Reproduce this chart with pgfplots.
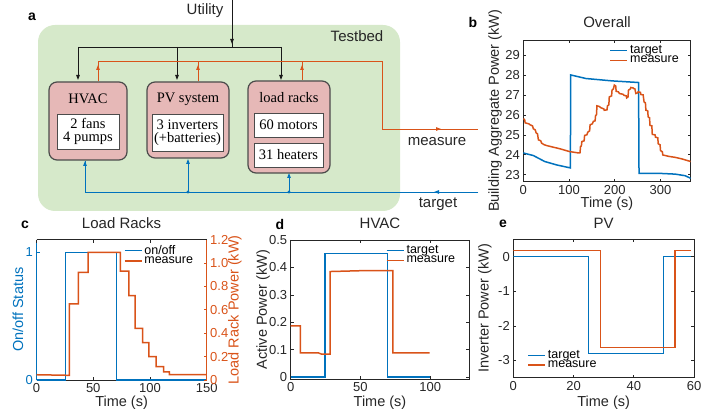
\documentclass[border=0pt]{standalone}
\usepackage{fontspec}
\setmainfont{Liberation Sans}
\newfontfamily\seriffont{Liberation Serif}
\usepackage{pgfplots}
\pgfplotsset{compat=1.18}
\usetikzlibrary{arrows.meta}

\definecolor{mblue}{RGB}{0,114,189}
\definecolor{mred}{RGB}{217,83,25}
\definecolor{axgray}{RGB}{38,38,38}
\definecolor{bedgreen}{RGB}{214,233,202}
\definecolor{boxpink}{RGB}{230,184,183}
\definecolor{boxedge}{RGB}{75,75,75}

\pgfplotsset{
  panel/.style={
    scale only axis, anchor=south west,
    tick align=inside, major tick length=3pt,
    axis line style={axgray, line width=0.6pt},
    every tick/.style={axgray, line width=0.6pt},
    tick label style={font=\fontsize{13}{13}\selectfont, text=axgray},
    label style={font=\fontsize{14.5}{15}\selectfont, text=axgray},
    title style={font=\fontsize{15}{16}\selectfont, anchor=center, text=axgray},
    legend style={draw=none, fill=none, font=\fontsize{12.5}{13}\selectfont, row sep=-3pt},
    legend cell align=left,
    /pgf/number format/assume math mode=true,
  },
  dl/.style={line width=1.5pt},
}

\begin{document}
\begin{tikzpicture}[x=1pt, y=1pt]
\useasboundingbox (0,0) rectangle (722,418);

% ---------------- panel a: testbed diagram ----------------
\begin{scope}[y=-1pt, yshift=418pt]
  \tikzset{
    tip/.style={-{Triangle[length=5pt,width=3.5pt]}},
    blk/.style={draw={rgb,255:red,25;green,25;blue,25}, line width=0.9pt},
    org/.style={draw=mred, line width=0.9pt},
    blu/.style={draw=mblue, line width=0.9pt},
    unit/.style={fill=boxpink, draw=boxedge, line width=1.2pt, rounded corners=8pt},
    inner/.style={fill=white, draw=boxedge, line width=0.9pt},
    ttl/.style={font=\fontsize{14.5}{15}\selectfont\seriffont},
    txt/.style={font=\fontsize{14.5}{13.5}\selectfont\seriffont, align=center},
    sans/.style={font=\fontsize{15}{15}\selectfont, text=axgray},
  }
  \fill[bedgreen, rounded corners=17pt] (38,25) rectangle (400,211);

  \node[font=\fontsize{14}{14}\selectfont\bfseries] at (32,17) {a};
  \node[sans] at (205,11) {Utility};
  \node[sans] at (357,36) {Testbed};
  \node[sans] at (437,142) {measure};
  \node[sans] at (438,204) {target};

  % utility feed (black)
  \draw[blk] (232,0) -- (232,47);
  \draw[blk, tip] (232,30) -- (232,44);
  \draw[blk, tip] (78,47) -- (78,80);
  \draw[blk, tip] (177,47) -- (177,80);
  \draw[blk, tip] (281,47) -- (281,80);
  \draw[blk] (78,47) -- (281,47);

  % measurement (orange)
  \draw[org] (98,81) -- (98,61) -- (382,61) -- (382,129) -- (478,129);
  \draw[org] (198,81) -- (198,61);
  \draw[org] (302,80) -- (302,61);
  \draw[org, tip] (98,81) -- (98,65);
  \draw[org, tip] (198,81) -- (198,65);
  \draw[org, tip] (302,80) -- (302,65);
  \draw[org, tip] (382,129) -- (441,129);

  % target (blue)
  \draw[blu] (478,192) -- (85,192) -- (85,161);
  \draw[blu, tip] (478,192) -- (434,192);
  \draw[blu, tip] (85,192) -- (85,161);
  \draw[blu, tip] (188,192) -- (188,159);
  \draw[blu, tip] (289,192) -- (289,173);
  \fill[mblue] (188,192) circle (1.6);
  \fill[mblue] (289,192) circle (1.6);

  % units
  \draw[unit] (49,82) rectangle (127,160);
  \node[ttl] at (88,99) {HVAC};
  \draw[inner] (57,114) rectangle (119,149);
  \node[txt] at (88,131.5) {2 fans\\4 pumps};

  \draw[unit] (147,82) rectangle (229,158);
  \node[ttl] at (188,99) {PV system};
  \draw[inner] (152,114) rectangle (223,151);
  \node[txt] at (187.5,132.5) {3 inverters\\(+batteries)};

  \draw[unit] (248,81) rectangle (330,173);
  \node[ttl] at (289,98) {load racks};
  \draw[inner] (254,113) rectangle (323,137);
  \node[txt] at (288.5,125) {60 motors};
  \draw[inner] (254,143) rectangle (323,167);
  \node[txt] at (288.5,155) {31 heaters};

  \node[font=\fontsize{14}{14}\selectfont\bfseries] at (473,22) {b};
  \node[font=\fontsize{14}{14}\selectfont\bfseries] at (25,225) {c};
  \node[font=\fontsize{14}{14}\selectfont\bfseries] at (280,224) {d};
  \node[font=\fontsize{14}{14}\selectfont\bfseries] at (503,224) {e};
\end{scope}

% ---------------- panel b: overall ----------------
\begin{axis}[panel, at={(523.3pt,236.3pt)}, width=167.4pt, height=141.7pt,
  xmin=0, xmax=366, ymin=22.65, ymax=29.75,
  xtick={0,100,200,300}, ytick={23,24,25,26,27,28,29},
  title={Overall}, title style={at={(axis description cs:0.5,1.085)}},
  xlabel={Time (s)}, xlabel style={at={(axis description cs:0.5,-0.157)}, anchor=center},
  ylabel={Building Aggregate Power (kW)},
  ylabel style={at={(axis description cs:-0.169,0.5)}, anchor=center},
  legend style={at={(axis description cs:0.96,0.99)}, anchor=north east},
]
\addplot[mblue, dl] coordinates {
  (0,24.09) (22,23.96) (47,23.66) (73,23.49) (103,23.34) (103.5,28.0)
  (137,27.82) (195,27.7) (252,27.62) (253,23.07) (296,23.07) (332,23.03)
  (354,22.95) (366,22.82)
};
\addlegendentry{target}
\addplot[mred, dl] coordinates {
  (0,25.81) (3,25.75) (4,25.6) (12,25.55) (15,25.5) (20,25.45) (22,25.3)
  (26,25.25) (28,25.1) (31,25.05) (33,24.75) (38,24.7) (40,24.58) (46,24.5)
  (51,24.46) (80,24.3) (101,24.16) (121,24.09) (124,24.1) (125,24.4)
  (127,24.45) (128,24.66) (133,24.7) (134,24.97) (139,25.0) (141,25.13)
  (145,25.2) (146,25.5) (151,25.55) (153,25.67) (157,25.7) (158,25.97)
  (160,26.0) (161,26.45) (166,26.42) (170,26.35) (176,26.3) (177,26.23)
  (183,26.25) (184,26.45) (187,26.5) (188,26.9) (193,26.95) (194,27.24)
  (197,27.3) (199,27.49) (202,27.45) (203,27.18) (208,27.15) (210,27.07)
  (218,27.03) (220,26.98) (225,26.95) (226,26.85) (229,26.9) (230,27.24)
  (234,27.3) (235,27.37) (240,27.35) (241,27.32) (244,27.3) (246,27.07)
  (250,27.1) (251,27.15) (256,27.13) (257,27.02) (262,27.0) (264,26.65)
  (267,26.6) (268,26.23) (272,26.2) (273,25.9) (276,25.85) (277,25.47)
  (281,25.45) (282,25.02) (288,25.0) (289,24.88) (294,24.85) (295,24.55)
  (299,24.5) (300,24.21) (304,24.15) (305,23.99) (318,23.92) (332,23.87)
  (347,23.79) (366,23.66)
};
\addlegendentry{measure}
\end{axis}

% ---------------- panel c: load racks (two y axes) ----------------
\begin{axis}[panel, at={(36.5pt,38pt)}, width=170.2pt, height=140.5pt,
  xmin=0, xmax=150, ymin=0, ymax=1.1, clip=false,
  axis x line*=bottom, axis y line*=left,
  xtick={0,50,100,150}, ytick={0,1},
  y axis line style={mblue}, y tick style={mblue}, y tick label style={text=mblue},
  title={Load Racks}, title style={at={(axis description cs:0.5,1.075)}},
  xlabel={Time (s)}, xlabel style={at={(axis description cs:0.5,-0.164)}, anchor=center},
  ylabel={On/off Status},
  ylabel style={at={(axis description cs:-0.109,0.5)}, anchor=center, text=mblue},
]
\addplot[mblue, dl] coordinates {
  (0,0) (25.5,0) (25.5,1) (70.5,1) (70.5,0) (150,0)
};
\end{axis}
\begin{axis}[panel, at={(36.5pt,38pt)}, width=170.2pt, height=140.5pt,
  xmin=0, xmax=150, ymin=0, ymax=1.2, clip=false,
  axis x line*=top, axis y line*=right,
  xtick={0,50,100,150}, xticklabels={},
  ytick={0,0.2,0.4,0.6,0.8,1.0,1.2},
  yticklabels={0,0.2,0.4,0.6,0.8,1.0,1.2},
  y axis line style={mred}, y tick style={mred}, y tick label style={text=mred},
  ylabel={Load Rack Power (kW)},
  ylabel style={at={(axis description cs:1.166,0.5)}, anchor=center, rotate=0, text=mred},
  legend style={at={(axis description cs:0.95,0.99)}, anchor=north east},
]
\addlegendimage{mblue, dl}
\addlegendentry{on/off}
\addplot[mred, dl] coordinates {
  (0,0.045) (29,0.04) (29,0.65) (37,0.65) (37,0.92) (45.5,0.92)
  (45.5,1.09) (74,1.09) (74,0.93) (81.5,0.93) (81.5,0.72) (87,0.72)
  (87,0.44) (93.5,0.44) (93.5,0.32) (99,0.32) (99,0.2) (105.5,0.2)
  (105.5,0.115) (112,0.115) (112,0.07) (117,0.07) (117,0.045) (150,0.045)
};
\addlegendentry{measure}
\end{axis}

% ---------------- panel d: HVAC ----------------
\begin{axis}[panel, at={(290.7pt,38.7pt)}, width=178.6pt, height=139.3pt,
  xmin=0, xmax=128, ymin=-0.008, ymax=0.5,
  xtick={0,50,100}, ytick={0,0.1,0.2,0.3,0.4,0.5},
  yticklabels={0,0.1,0.2,0.3,0.4,0.5},
  title={HVAC}, title style={at={(axis description cs:0.5,1.079)}},
  xlabel={Time (s)}, xlabel style={at={(axis description cs:0.5,-0.17)}, anchor=center},
  ylabel={Active Power (kW)},
  ylabel style={at={(axis description cs:-0.155,0.5)}, anchor=center},
  legend style={at={(axis description cs:0.95,0.99)}, anchor=north east},
]
\addplot[mblue, dl] coordinates {
  (0,0) (24.6,0) (24.6,0.45) (69.4,0.45) (69.4,0) (100,0)
};
\addlegendentry{target}
\addplot[mred, dl] coordinates {
  (0,0.187) (6.9,0.187) (6.9,0.088) (20,0.088) (22,0.084) (28.2,0.084)
  (28.2,0.385) (50,0.388) (73.2,0.388) (73.2,0.088) (99.5,0.088)
};
\addlegendentry{measure}
\end{axis}

% ---------------- panel e: PV ----------------
\begin{axis}[panel, at={(513.3pt,40.3pt)}, width=180.7pt, height=138.4pt,
  xmin=0, xmax=60, ymin=-3.5, ymax=0.5,
  xtick={0,20,40,60}, ytick={-3,-2,-1,0}, yticklabels={-3,-2,-1,0},
  title={PV}, title style={at={(axis description cs:0.5,1.074)}},
  xlabel={Time (s)}, xlabel style={at={(axis description cs:0.5,-0.183)}, anchor=center},
  ylabel={Inverter Power (kW)},
  ylabel style={at={(axis description cs:-0.157,0.5)}, anchor=center},
  legend style={at={(axis description cs:0.06,0.03)}, anchor=south west},
]
\addplot[mblue, dl] coordinates {
  (0,0) (25,0) (25,-2.8) (49.9,-2.8) (49.9,0) (59,0)
};
\addlegendentry{target}
\addplot[mred, dl] coordinates {
  (0,0.17) (28.9,0.17) (28.9,-2.63) (53.7,-2.63) (53.7,0.17) (59,0.17)
};
\addlegendentry{measure}
\end{axis}

\end{tikzpicture}
\end{document}
